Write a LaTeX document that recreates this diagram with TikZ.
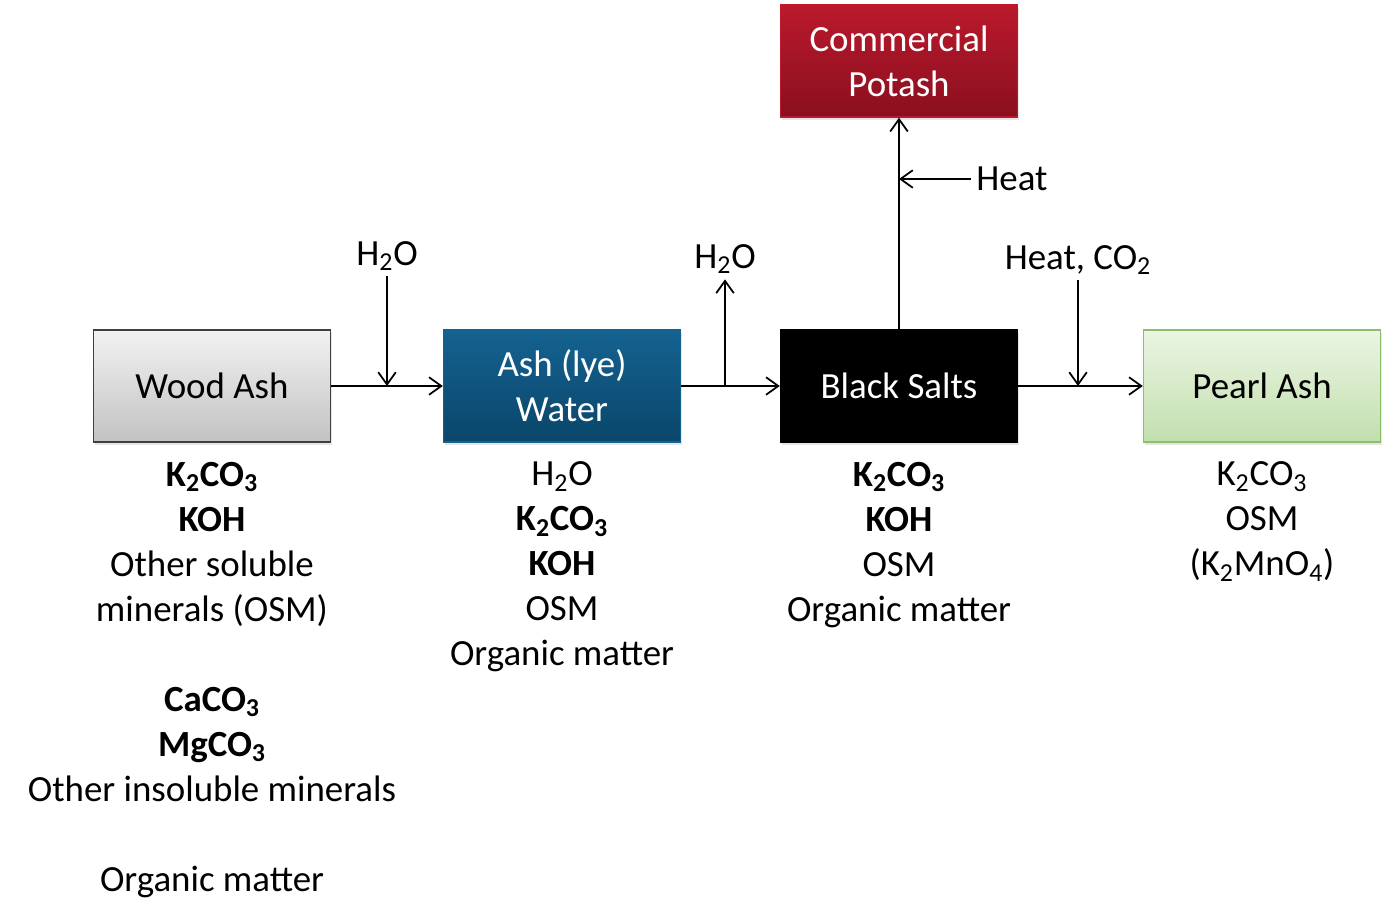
\documentclass[tikz,border=0pt]{standalone}
\usepackage{fontspec}
\setmainfont{Carlito}
\usetikzlibrary{positioning,shadows,arrows.meta}

\definecolor{ashtop}{HTML}{F2F2F2}
\definecolor{ashbot}{HTML}{C2C2C2}
\definecolor{lyetop}{HTML}{146290}
\definecolor{lyebot}{HTML}{0A466A}
\definecolor{pottop}{HTML}{BA1A2C}
\definecolor{potbot}{HTML}{8A0F1F}
\definecolor{peartop}{HTML}{EBF5E3}
\definecolor{pearbot}{HTML}{C2DFAD}
\definecolor{pearline}{HTML}{8CBF6C}

\begin{document}
\begin{tikzpicture}[x=0.02cm, y=-0.02cm,
    every node/.style={font=\fontsize{21}{25.6}\selectfont},
    box/.style={rectangle, draw, align=center, line width=0.8pt,
      minimum width=4.74cm, minimum height=2.24cm,
      drop shadow={shadow xshift=0.8pt, shadow yshift=-1.8pt, opacity=0.2}},
    list/.style={align=center, inner sep=0pt},
    tag/.style={inner sep=3pt},
    flow/.style={-{Straight Barb[length=7pt, width=10pt]}, line width=1pt}
    ]
    \useasboundingbox (0,0) rectangle (1389,923);

    % process boxes
    \node[box, draw=black!75, top color=ashtop, bottom color=ashbot] (wood) at (212,386) {Wood Ash};
    \node[box, draw=lyetop, top color=lyetop, bottom color=lyebot, text=white] (lye) at (562,386) {Ash (lye)\\Water};
    \node[box, fill=black, text=white] (salts) at (899,386) {Black Salts};
    \node[box, draw=pottop, top color=pottop, bottom color=potbot, text=white] (potash) at (899,61) {Commercial\\Potash};
    \node[box, draw=pearline, top color=peartop, bottom color=pearbot] (pearl) at (1262,386) {Pearl Ash};

    % what is in each
    \node[list, below=0.38cm of wood] (woodlist) {\textbf{K\textsubscript{2}CO\textsubscript{3}}\\ \textbf{KOH}\\ Other soluble\\ minerals (OSM)\\[25.6pt]
      \textbf{CaCO\textsubscript{3}}\\ \textbf{MgCO\textsubscript{3}}\\ Other insoluble minerals\\[25.6pt] Organic matter};
    \node[list, below=0.38cm of lye] (lyelist) {H\textsubscript{2}O\\ \textbf{K\textsubscript{2}CO\textsubscript{3}}\\ \textbf{KOH}\\ OSM\\ Organic matter};
    \node[list, below=0.38cm of salts] (saltslist) {\textbf{K\textsubscript{2}CO\textsubscript{3}}\\ \textbf{KOH}\\ OSM\\ Organic matter};
    \node[list, below=0.38cm of pearl] (pearllist) {K\textsubscript{2}CO\textsubscript{3}\\ OSM\\ (K\textsubscript{2}MnO\textsubscript{4})};

    % inputs and outputs
    \node[tag] (h2oin) at (387,256) {H\textsubscript{2}O};
    \node[tag] (h2oout) at (725,259) {H\textsubscript{2}O};
    \node[tag] (heat) at (1012,179) {Heat};
    \node[tag] (heatco) at (1078,260) {Heat, CO\textsubscript{2}};

    \draw[flow] (wood) -- (lye);
    \draw[flow] (lye) -- (salts);
    \draw[flow] (salts) -- (pearl);
    \draw[flow] (salts) -- (potash);
    \draw[flow] (h2oin.south) -- (h2oin.south |- wood.east);
    \draw[flow] (h2oout.south |- lye.east) -- (h2oout.south);
    \draw[flow] (heat.west) -- (heat.west -| salts.north);
    \draw[flow] (heatco.south) -- (heatco.south |- salts.east);
\end{tikzpicture}
\end{document}
